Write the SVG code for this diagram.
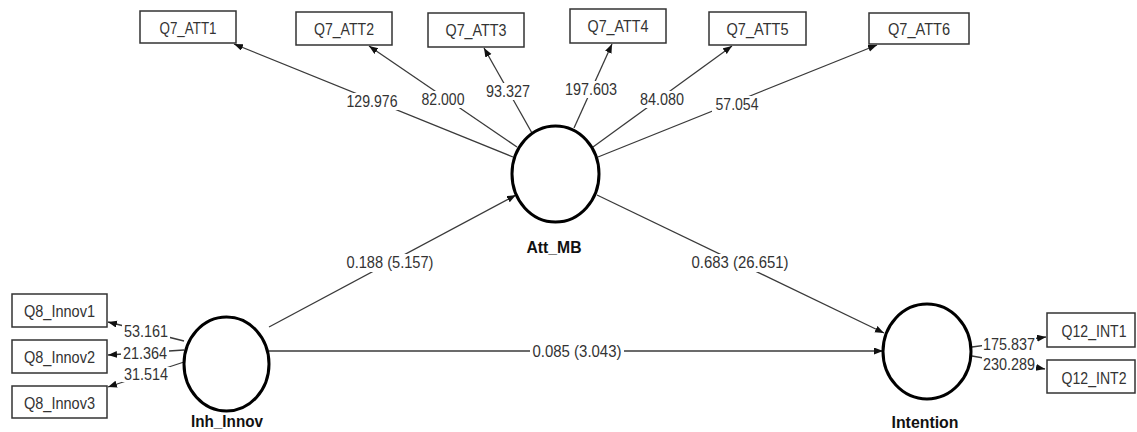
<svg xmlns="http://www.w3.org/2000/svg" width="1137" height="432" viewBox="0 0 1137 432">
<style>
text{font-family:"Liberation Sans",Arial,sans-serif;font-size:16px;fill:#333;text-anchor:middle}
.lat{font-weight:bold;fill:#111}
.box{fill:#fff;stroke:#333;stroke-width:1.5}
.ell{fill:#fff;stroke:#000;stroke-width:3}
.ln{stroke:#3a3a3a;stroke-width:1.3;fill:none;marker-end:url(#ah)}
.bg{fill:#fff}
</style>
<defs>
<marker id="ah" markerUnits="userSpaceOnUse" markerWidth="10" markerHeight="8" refX="9" refY="3.5" orient="auto">
<path d="M0,0 L9,3.5 L0,7 z" fill="#111"/>
</marker>
</defs>
<rect width="1137" height="432" fill="#fff"/>
<g id="connectors">
<g id="e-att1"><line class="ln" x1="513" y1="157" x2="234" y2="44"/><rect class="bg" x="343" y="93" width="58" height="17"/><text x="372" y="107" textLength="51" lengthAdjust="spacingAndGlyphs">129.976</text></g>
<g id="e-att2"><line class="ln" x1="517" y1="147" x2="369" y2="46"/><rect class="bg" x="418" y="91" width="50" height="17"/><text x="443" y="105" textLength="43" lengthAdjust="spacingAndGlyphs">82.000</text></g>
<g id="e-att3"><line class="ln" x1="532" y1="133" x2="484" y2="48"/><rect class="bg" x="484" y="83" width="50" height="17"/><text x="508" y="97" textLength="44" lengthAdjust="spacingAndGlyphs">93.327</text></g>
<g id="e-att4"><line class="ln" x1="574" y1="128" x2="612" y2="44"/><rect class="bg" x="562" y="81" width="58" height="17"/><text x="591" y="95" textLength="52" lengthAdjust="spacingAndGlyphs">197.603</text></g>
<g id="e-att5"><line class="ln" x1="593" y1="147" x2="732" y2="46"/><rect class="bg" x="637" y="91" width="50" height="17"/><text x="662" y="105" textLength="44" lengthAdjust="spacingAndGlyphs">84.080</text></g>
<g id="e-att6"><line class="ln" x1="598" y1="157" x2="877" y2="45"/><rect class="bg" x="712" y="96" width="50" height="17"/><text x="737" y="110" textLength="43" lengthAdjust="spacingAndGlyphs">57.054</text></g>
<g id="e-inh-att"><line class="ln" x1="269" y1="327" x2="516" y2="195"/><rect class="bg" x="343" y="254" width="94" height="18"/><text x="390" y="268" textLength="87" lengthAdjust="spacingAndGlyphs">0.188 (5.157)</text></g>
<g id="e-att-int"><line class="ln" x1="597" y1="195" x2="884" y2="333"/><rect class="bg" x="688" y="254" width="104" height="18"/><text x="740" y="268" textLength="97" lengthAdjust="spacingAndGlyphs">0.683 (26.651)</text></g>
<g id="e-inh-int"><line class="ln" x1="269" y1="351" x2="883" y2="351"/><rect class="bg" x="530" y="343" width="94" height="18"/><text x="577" y="357" textLength="89" lengthAdjust="spacingAndGlyphs">0.085 (3.043)</text></g>
<g id="e-inn1"><line class="ln" x1="184" y1="341" x2="108" y2="322"/><rect class="bg" x="122" y="324" width="48" height="15"/><text x="146" y="337" textLength="44" lengthAdjust="spacingAndGlyphs">53.161</text></g>
<g id="e-inn2"><line class="ln" x1="184" y1="350" x2="108" y2="355"/><rect class="bg" x="121" y="346" width="48" height="15"/><text x="145" y="359" textLength="44" lengthAdjust="spacingAndGlyphs">21.364</text></g>
<g id="e-inn3"><line class="ln" x1="184" y1="362" x2="108" y2="387"/><rect class="bg" x="122" y="367" width="48" height="15"/><text x="146" y="380" textLength="44" lengthAdjust="spacingAndGlyphs">31.514</text></g>
<g id="e-int1"><line class="ln" x1="972" y1="347" x2="1046" y2="337"/><rect class="bg" x="982" y="337" width="54" height="15"/><text x="1009" y="350" textLength="52" lengthAdjust="spacingAndGlyphs">175.837</text></g>
<g id="e-int2"><line class="ln" x1="972" y1="356" x2="1045" y2="369"/><rect class="bg" x="982" y="357" width="54" height="15"/><text x="1009" y="370" textLength="52" lengthAdjust="spacingAndGlyphs">230.289</text></g>
</g>
<g id="Q7_ATT1"><rect class="box" x="140" y="11" width="96" height="32"/><text x="188" y="34" textLength="57" lengthAdjust="spacingAndGlyphs">Q7_ATT1</text></g>
<g id="Q7_ATT2"><rect class="box" x="296" y="12" width="96" height="33"/><text x="344" y="35" textLength="60" lengthAdjust="spacingAndGlyphs">Q7_ATT2</text></g>
<g id="Q7_ATT3"><rect class="box" x="428" y="13" width="96" height="34"/><text x="476" y="36" textLength="61" lengthAdjust="spacingAndGlyphs">Q7_ATT3</text></g>
<g id="Q7_ATT4"><rect class="box" x="570" y="9" width="96" height="34"/><text x="618" y="32" textLength="61" lengthAdjust="spacingAndGlyphs">Q7_ATT4</text></g>
<g id="Q7_ATT5"><rect class="box" x="709" y="12" width="97" height="33"/><text x="757.5" y="35" textLength="62" lengthAdjust="spacingAndGlyphs">Q7_ATT5</text></g>
<g id="Q7_ATT6"><rect class="box" x="869" y="13" width="100" height="31"/><text x="919" y="35" textLength="62" lengthAdjust="spacingAndGlyphs">Q7_ATT6</text></g>
<g id="Q8_Innov1"><rect class="box" x="12" y="294" width="95" height="33"/><text x="59.5" y="317" textLength="71" lengthAdjust="spacingAndGlyphs">Q8_Innov1</text></g>
<g id="Q8_Innov2"><rect class="box" x="12" y="340" width="95" height="33"/><text x="59.5" y="363" textLength="71" lengthAdjust="spacingAndGlyphs">Q8_Innov2</text></g>
<g id="Q8_Innov3"><rect class="box" x="12" y="386" width="95" height="32"/><text x="59.5" y="409" textLength="71" lengthAdjust="spacingAndGlyphs">Q8_Innov3</text></g>
<g id="Q12_INT1"><rect class="box" x="1047" y="313" width="88" height="34"/><text x="1094" y="337" textLength="65" lengthAdjust="spacingAndGlyphs">Q12_INT1</text></g>
<g id="Q12_INT2"><rect class="box" x="1047" y="360" width="88" height="33"/><text x="1094" y="384" textLength="65" lengthAdjust="spacingAndGlyphs">Q12_INT2</text></g>
<g id="Att_MB"><ellipse class="ell" cx="555.5" cy="174" rx="43.5" ry="48"/><text class="lat" x="554" y="253" textLength="55" lengthAdjust="spacingAndGlyphs">Att_MB</text></g>
<g id="Inh_Innov"><ellipse class="ell" cx="226.5" cy="364" rx="42.5" ry="47"/><text class="lat" x="227" y="427" textLength="72" lengthAdjust="spacingAndGlyphs">Inh_Innov</text></g>
<g id="Intention"><ellipse class="ell" cx="927" cy="351.5" rx="44" ry="47.5"/><text class="lat" x="925" y="428" textLength="67" lengthAdjust="spacingAndGlyphs">Intention</text></g>
</svg>
